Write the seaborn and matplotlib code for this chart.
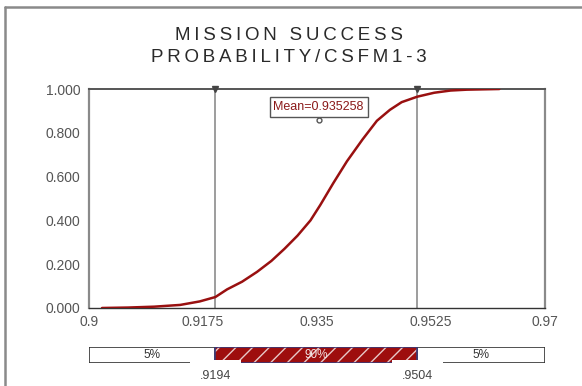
import numpy as np
import pandas as pd
import matplotlib
matplotlib.use("Agg")
import matplotlib.pyplot as plt
import seaborn as sns
from matplotlib.lines import Line2D

# cumulative curve
prob_x = [0.902, 0.906, 0.910, 0.914, 0.917, 0.9194, 0.9212, 0.9235, 0.9258,
          0.9280, 0.9300, 0.9320, 0.9340, 0.9355, 0.9375, 0.9396, 0.9420,
          0.9442, 0.9462, 0.9480, 0.9504, 0.9530, 0.9555, 0.9580, 0.9630]
cum_y = [0.0, 0.002, 0.006, 0.014, 0.030, 0.050, 0.085, 0.120, 0.165,
         0.215, 0.270, 0.330, 0.400, 0.470, 0.570, 0.670, 0.770,
         0.855, 0.905, 0.940, 0.965, 0.983, 0.993, 0.997, 1.0]

mean_val = 0.935258
low_cut = 0.9194
high_cut = 0.9504
x_ticks = [0.9, 0.9175, 0.935, 0.9525, 0.97]
x_labels = ["0.9", "0.9175", "0.935", "0.9525", "0.97"]
y_ticks = [0.0, 0.2, 0.4, 0.6, 0.8, 1.0]
band_labels = ["5%", "90%", "5%"]
title_lines = ["MISSION SUCCESS", "PROBABILITY/CSFM1-3"]

df = pd.DataFrame({"x": prob_x, "p": cum_y})


def spaced(s):
    # the title is drawn with wide letter spacing
    return "\u2009".join(s)


sns.set_style("white")
plt.rcParams["font.family"] = ["Liberation Sans", "DejaVu Sans"]

fig = plt.figure(figsize=(5.82, 3.86), dpi=100)
ax = fig.add_axes([0.1529, 0.2021, 0.7835, 0.5673])

# gray marker lines at the 5% / 95% points
for v in [low_cut, high_cut]:
    ax.axvline(v, color="#8c8c8c", lw=1.2, zorder=1)
ax.plot([low_cut, high_cut], [1.0, 1.0], linestyle="none", marker="v",
        markersize=5, color="#444444", clip_on=False, zorder=5)

sns.lineplot(data=df, x="x", y="p", ax=ax, color="#991010", lw=1.8, zorder=3)

ax.set_xlim(0.9, 0.97)
ax.set_ylim(0, 1)
ax.set_xticks(x_ticks)
ax.set_xticklabels(x_labels)
ax.set_yticks(y_ticks)
ax.set_yticklabels(["%.3f" % t for t in y_ticks])
ax.set_xlabel("")
ax.set_ylabel("")
ax.tick_params(axis="x", direction="in", length=4, width=1, color="#333333",
               labelsize=10, labelcolor="#555555", pad=5)
ax.tick_params(axis="y", length=0, labelsize=10, labelcolor="#555555", pad=6)
for side in ["left", "right"]:
    ax.spines[side].set_color("#8a8a8a")
    ax.spines[side].set_linewidth(1.6)
ax.spines["top"].set_color("#555555")
ax.spines["top"].set_linewidth(1.4)
ax.spines["bottom"].set_color("#333333")
ax.spines["bottom"].set_linewidth(1.0)

# mean label box
ax.text(mean_val, 0.918, "Mean=%g" % mean_val, ha="center", va="center",
        fontsize=9, color="#8b1a1a",
        bbox=dict(boxstyle="square,pad=0.3", fc="white", ec="#555555", lw=1.0))
ax.plot([mean_val], [0.858], marker="o", markersize=3.5, mfc="white",
        mec="#555555", mew=1, linestyle="none")

fig.text(0.497, 0.908, spaced(title_lines[0]), ha="center", va="center",
         fontsize=13.5, color="#2a2a2a")
fig.text(0.497, 0.850, spaced(title_lines[1]), ha="center", va="center",
         fontsize=13.5, color="#2a2a2a")

# bottom percentile bar
bx = fig.add_axes([0.1529, 0.0596, 0.7835, 0.0415])
bx.set_xlim(0.9, 0.97)
bx.set_ylim(0, 1)
bx.axis("off")
bx.barh(0.5, low_cut - 0.9, left=0.9, height=1, color="white",
        edgecolor="#333333", lw=1.2)
bx.barh(0.5, 0.97 - high_cut, left=high_cut, height=1, color="white",
        edgecolor="#333333", lw=1.2)
bx.barh(0.5, high_cut - low_cut, left=low_cut, height=1, color="#9e0e0e",
        edgecolor="#e8c8c8", hatch="//", lw=0)
bx.barh(0.5, high_cut - low_cut, left=low_cut, height=1, fill=False,
        edgecolor="#3a3a78", lw=1.2)
bx.text((0.9 + low_cut) / 2, 0.5, band_labels[0], ha="center", va="center",
        fontsize=8.5, color="#333333")
bx.text((low_cut + high_cut) / 2, 0.5, band_labels[1], ha="center",
        va="center", fontsize=8.5, color="#f2e6e6")
bx.text((high_cut + 0.97) / 2, 0.5, band_labels[2], ha="center", va="center",
        fontsize=8.5, color="#333333")
for v in [low_cut, high_cut]:
    bx.text(v, -0.8, ("%.4f" % v)[1:], ha="center", va="center",
            fontsize=9, color="#444444", clip_on=False, zorder=4,
            bbox=dict(boxstyle="square,pad=0.8", fc="white", ec="none"))

# outer frame, cut off at the right and bottom
fig.add_artist(Line2D([0.009, 1.0], [0.982, 0.982], color="#8a8a8a", lw=1.8))
fig.add_artist(Line2D([0.009, 0.009], [0.0, 0.982], color="#8a8a8a", lw=1.8))

fig.savefig("out.png", dpi=100, facecolor="white")
